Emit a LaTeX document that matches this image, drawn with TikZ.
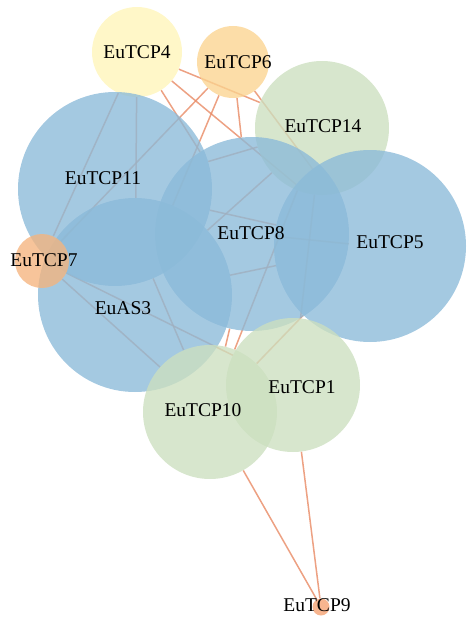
\documentclass[tikz,border=0pt]{standalone}
\usepackage{fontspec}
\setmainfont{Liberation Serif}
\usetikzlibrary{backgrounds}
\definecolor{blueN}{HTML}{8BBAD9}
\definecolor{greenN}{HTML}{CCDFBF}
\definecolor{yellowN}{HTML}{FFF5B8}
\definecolor{peachN}{HTML}{FBD38F}
\definecolor{orangeN}{HTML}{F5B47E}
\definecolor{deepN}{HTML}{F5A070}
\definecolor{linkC}{HTML}{E88A64}

\begin{document}
\begin{tikzpicture}[
  x=1pt, y=-1pt,
  gene/.style={circle, draw=none, inner sep=0pt, fill opacity=0.78},
  lbl/.style={inner sep=0pt, text=black, font=\fontsize{19.5}{21}\selectfont},
  link/.style={draw=linkC, line width=1.5pt, draw opacity=0.8}
]
  \useasboundingbox (0,0) rectangle (466,618);
  \node[gene, fill=greenN, minimum size=134pt] (tcp14) at (322,128) {};
  \node[gene, fill=yellowN, minimum size=90pt] (tcp4) at (137,52) {};
  \node[gene, fill=peachN, minimum size=72pt] (tcp6) at (233,62) {};
  \node[gene, fill=blueN, minimum size=194pt] (tcp11) at (115,189) {};
  \node[gene, fill=blueN, minimum size=194pt] (as3) at (135,295) {};
  \node[gene, fill=blueN, minimum size=194pt] (tcp8) at (252,234) {};
  \node[gene, fill=blueN, minimum size=192pt] (tcp5) at (370,246) {};
  \node[gene, fill=orangeN, minimum size=54pt] (tcp7) at (42,261) {};
  \node[gene, fill=greenN, minimum size=134pt] (tcp10) at (210,412) {};
  \node[gene, fill=greenN, minimum size=134pt] (tcp1) at (293,385) {};
  \node[gene, fill=deepN, minimum size=17pt] (tcp9) at (321,607) {};

  \begin{scope}[on background layer]
    \draw[link] (tcp9) -- (tcp10);
    \draw[link] (tcp9) -- (tcp1);
    \draw[link] (tcp4) -- (tcp14);
    \draw[link] (tcp4) -- (tcp5);
    \draw[link] (tcp4) -- (tcp8);
    \draw[link] (tcp4) -- (tcp7);
    \draw[link] (tcp4) -- (as3);
    \draw[link] (tcp6) -- (tcp7);
    \draw[link] (tcp6) -- (as3);
    \draw[link] (tcp6) -- (tcp8);
    \draw[link] (tcp6) -- (tcp5);
    \draw[link] (tcp11) -- (tcp14);
    \draw[link] (tcp14) -- (as3);
    \draw[link] (tcp11) -- (tcp5);
    \draw[link] (as3) -- (tcp5);
    \draw[link] (tcp14) -- (tcp10);
    \draw[link] (tcp8) -- (tcp10);
    \draw[link] (tcp14) -- (tcp1);
    \draw[link] (tcp5) -- (tcp10);
    \draw[link] (tcp8) -- (tcp5);
    \draw[link] (tcp7) -- (tcp1);
    \draw[link] (tcp7) -- (tcp10);
    \draw[link] (tcp11) -- (tcp10);
  \end{scope}

  \node[lbl] (lab4) at (137,52) {EuTCP4};
  \node[lbl] (lab6) at (238,62) {EuTCP6};
  \node[lbl] (lab14) at (323,126) {EuTCP14};
  \node[lbl] (lab11) at (103,178) {EuTCP11};
  \node[lbl] (lab8) at (251,233) {EuTCP8};
  \node[lbl] (lab5) at (390,242) {EuTCP5};
  \node[lbl] (lab7) at (44,260) {EuTCP7};
  \node[lbl] (labas3) at (123,308) {EuAS3};
  \node[lbl] (lab1) at (302,387) {EuTCP1};
  \node[lbl] (lab10) at (203,410) {EuTCP10};
  \node[lbl] (lab9) at (317,605) {EuTCP9};
\end{tikzpicture}
\end{document}
